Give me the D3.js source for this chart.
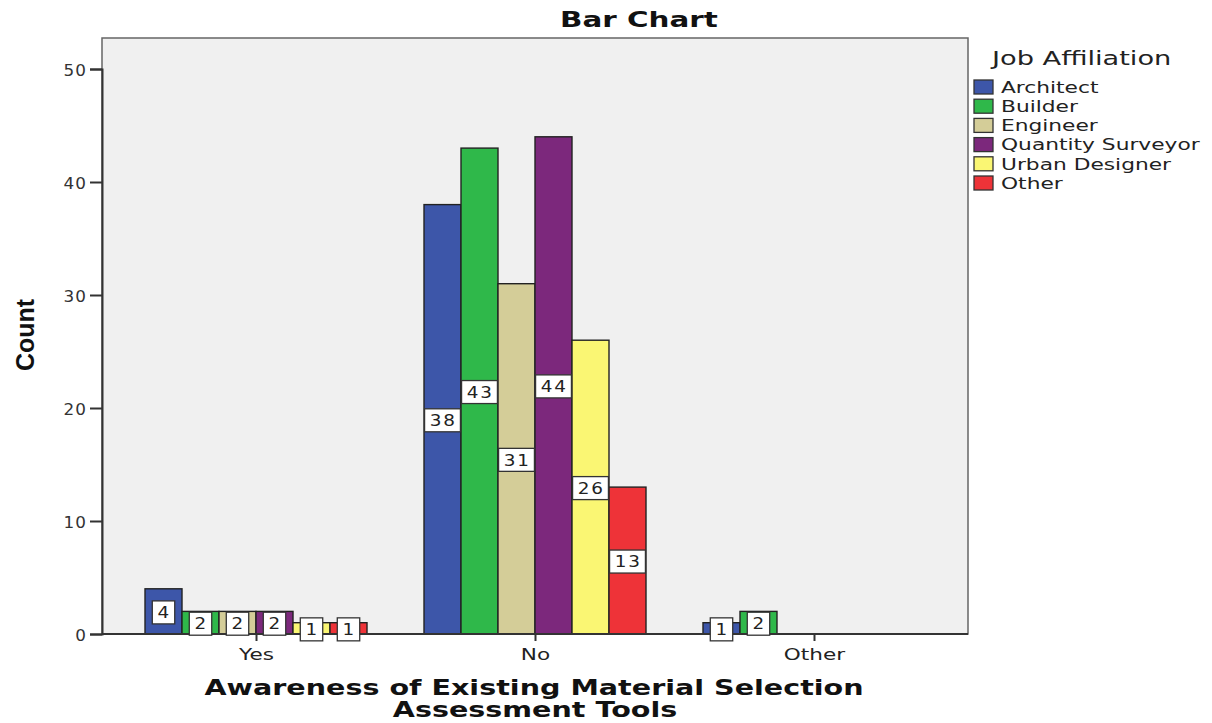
<!DOCTYPE html>
<html>
<head>
<meta charset="utf-8">
<script src="https://cdn.jsdelivr.net/npm/d3@7"></script>
<style>
  html, body { margin: 0; padding: 0; background: #fff; }
  svg { display: block; font-family: "DejaVu Sans", sans-serif; }
</style>
</head>
<body>
<svg id="chart" width="1212" height="723"></svg>
<script>
// Awareness categories on the x axis
const categories = ["Yes", "No", "Other"];
// Job affiliation groups (legend order)
const groups = ["Architect", "Builder", "Engineer", "Quantity Surveyor", "Urban Designer", "Other"];
// Counts per group, one array per awareness category
const countsYes = [4, 2, 2, 2, 1, 1];
const countsNo = [38, 43, 31, 44, 26, 13];
const countsOther = [1, 2, 0, 0, 0, 0];
const yTicks = [0, 10, 20, 30, 40, 50];
const colors = ["#3d56a9", "#2fb84a", "#d4cd98", "#7c287c", "#faf673", "#ee3338"];

const counts = [countsYes, countsNo, countsOther];
const rows = [];
categories.forEach((c, i) => groups.forEach((g, j) => rows.push({ cat: c, group: g, value: counts[i][j] })));

// horizontally widened lettering, applied around each text's anchor point
function place(sel, px, py, sx) {
  sel.attr("x", 0).attr("y", 0).attr("transform", `translate(${px},${py}) scale(${sx},1)`);
  return sel;
}

const svg = d3.select("#chart");
const plot = { left: 102, right: 968, top: 38, bottom: 634 };

const x = d3.scalePoint().domain(categories).range([plot.left, plot.right]).padding(0.552);
const barW = 37;
const xg = d3.scaleBand().domain(groups).range([-barW * 3, barW * 3]).padding(0);
const y = d3.scaleLinear().domain([0, 50]).range([plot.bottom, 69]);
const color = d3.scaleOrdinal().domain(groups).range(colors);

// plot background and frame
svg.append("rect")
  .attr("x", plot.left).attr("y", plot.top)
  .attr("width", plot.right - plot.left).attr("height", plot.bottom - plot.top)
  .attr("fill", "#f0f0f0").attr("stroke", "#666").attr("stroke-width", 1.5);

// bars
const bars = svg.append("g");
bars.selectAll("rect").data(rows.filter(d => d.value > 0)).join("rect")
  .attr("x", d => x(d.cat) + xg(d.group))
  .attr("y", d => y(d.value))
  .attr("width", xg.bandwidth())
  .attr("height", d => y(0) - y(d.value))
  .attr("fill", d => color(d.group))
  .attr("stroke", "#222").attr("stroke-width", 1.4);

// y axis
const yAxis = svg.append("g").attr("transform", `translate(${plot.left},0)`)
  .call(d3.axisLeft(y).tickValues(yTicks).tickSize(12).tickPadding(3));
yAxis.select(".domain").attr("stroke", "#333").attr("stroke-width", 2);
yAxis.selectAll(".tick line").attr("stroke", "#333").attr("stroke-width", 2);
yAxis.selectAll(".tick text").attr("font-size", 15).attr("fill", "#333")
  .attr("letter-spacing", "1px").attr("font-family", "DejaVu Sans, sans-serif")
  .attr("dy", "0.36em")
  .each(function () { place(d3.select(this), -15, 1, 1.12); });

// x axis
const xAxis = svg.append("g").attr("transform", `translate(0,${plot.bottom})`)
  .call(d3.axisBottom(x).tickSize(7).tickPadding(5));
xAxis.select(".domain").attr("stroke", "#333").attr("stroke-width", 2)
  .attr("d", `M${plot.left},0H${plot.right}`);
xAxis.selectAll(".tick line").attr("stroke", "#333").attr("stroke-width", 2);
xAxis.selectAll(".tick text").attr("font-size", 16).attr("fill", "#222")
  .attr("font-family", "DejaVu Sans, sans-serif").attr("dy", null)
  .each(function () { place(d3.select(this), 0, 26, 1.35); });

// value labels in white boxes at the middle of each bar
const labels = svg.append("g");
const lab = labels.selectAll("g").data(rows.filter(d => d.value > 0)).join("g")
  .attr("transform", d => `translate(${x(d.cat) + xg(d.group) + xg.bandwidth() / 2},${(y(d.value) + y(0)) / 2 + 1})`);
lab.append("rect").attr("class", "box");
lab.append("text")
  .attr("text-anchor", "middle").attr("dy", "0.36em")
  .attr("font-size", 16).attr("letter-spacing", "1.5px").attr("fill", "#222")
  .text(d => d.value)
  .each(function () { place(d3.select(this), 0.75, 0, 1.15); });
lab.each(function () {
  const t = d3.select(this).select("text");
  const w = t.node().getComputedTextLength() * 1.15 + 9;
  d3.select(this).select("rect")
    .attr("x", -w / 2).attr("y", -11.5).attr("width", w).attr("height", 23)
    .attr("fill", "#fff").attr("stroke", "#333").attr("stroke-width", 1.3);
});

// title
place(svg.append("text"), 639, 27, 1.4).attr("text-anchor", "middle")
  .attr("font-size", 21).attr("font-weight", "bold").attr("fill", "#111")
  .text("Bar Chart");

// y axis title
svg.append("text").attr("transform", "translate(34,335) rotate(-90)")
  .attr("text-anchor", "middle").attr("font-size", 25).attr("font-weight", "bold")
  .attr("font-family", "Liberation Sans Narrow, Liberation Sans, sans-serif")
  .attr("fill", "#111").text("Count");

// x axis title, two lines
place(svg.append("text"), 534, 695, 1.33).attr("text-anchor", "middle")
  .attr("font-size", 21.5).attr("font-weight", "bold").attr("fill", "#111")
  .text("Awareness of Existing Material Selection");
place(svg.append("text"), 535, 717, 1.33).attr("text-anchor", "middle")
  .attr("font-size", 21.5).attr("font-weight", "bold").attr("fill", "#111")
  .text("Assessment Tools");

// legend
const legend = svg.append("g");
place(legend.append("text"), 992, 65, 1.36)
  .attr("font-size", 20).attr("fill", "#222")
  .text("Job Affiliation");
const li = legend.selectAll("g").data(groups).join("g")
  .attr("transform", (d, i) => `translate(974,${87 + i * 19.2})`);
li.append("rect").attr("x", 0).attr("y", -7).attr("width", 19).attr("height", 14)
  .attr("fill", d => color(d)).attr("stroke", "#333").attr("stroke-width", 1.3);
li.append("text").attr("dy", "0.36em")
  .attr("font-size", 16).attr("fill", "#222")
  .text(d => d)
  .each(function () { place(d3.select(this), 27, 0, 1.36); });
</script>
</body>
</html>
